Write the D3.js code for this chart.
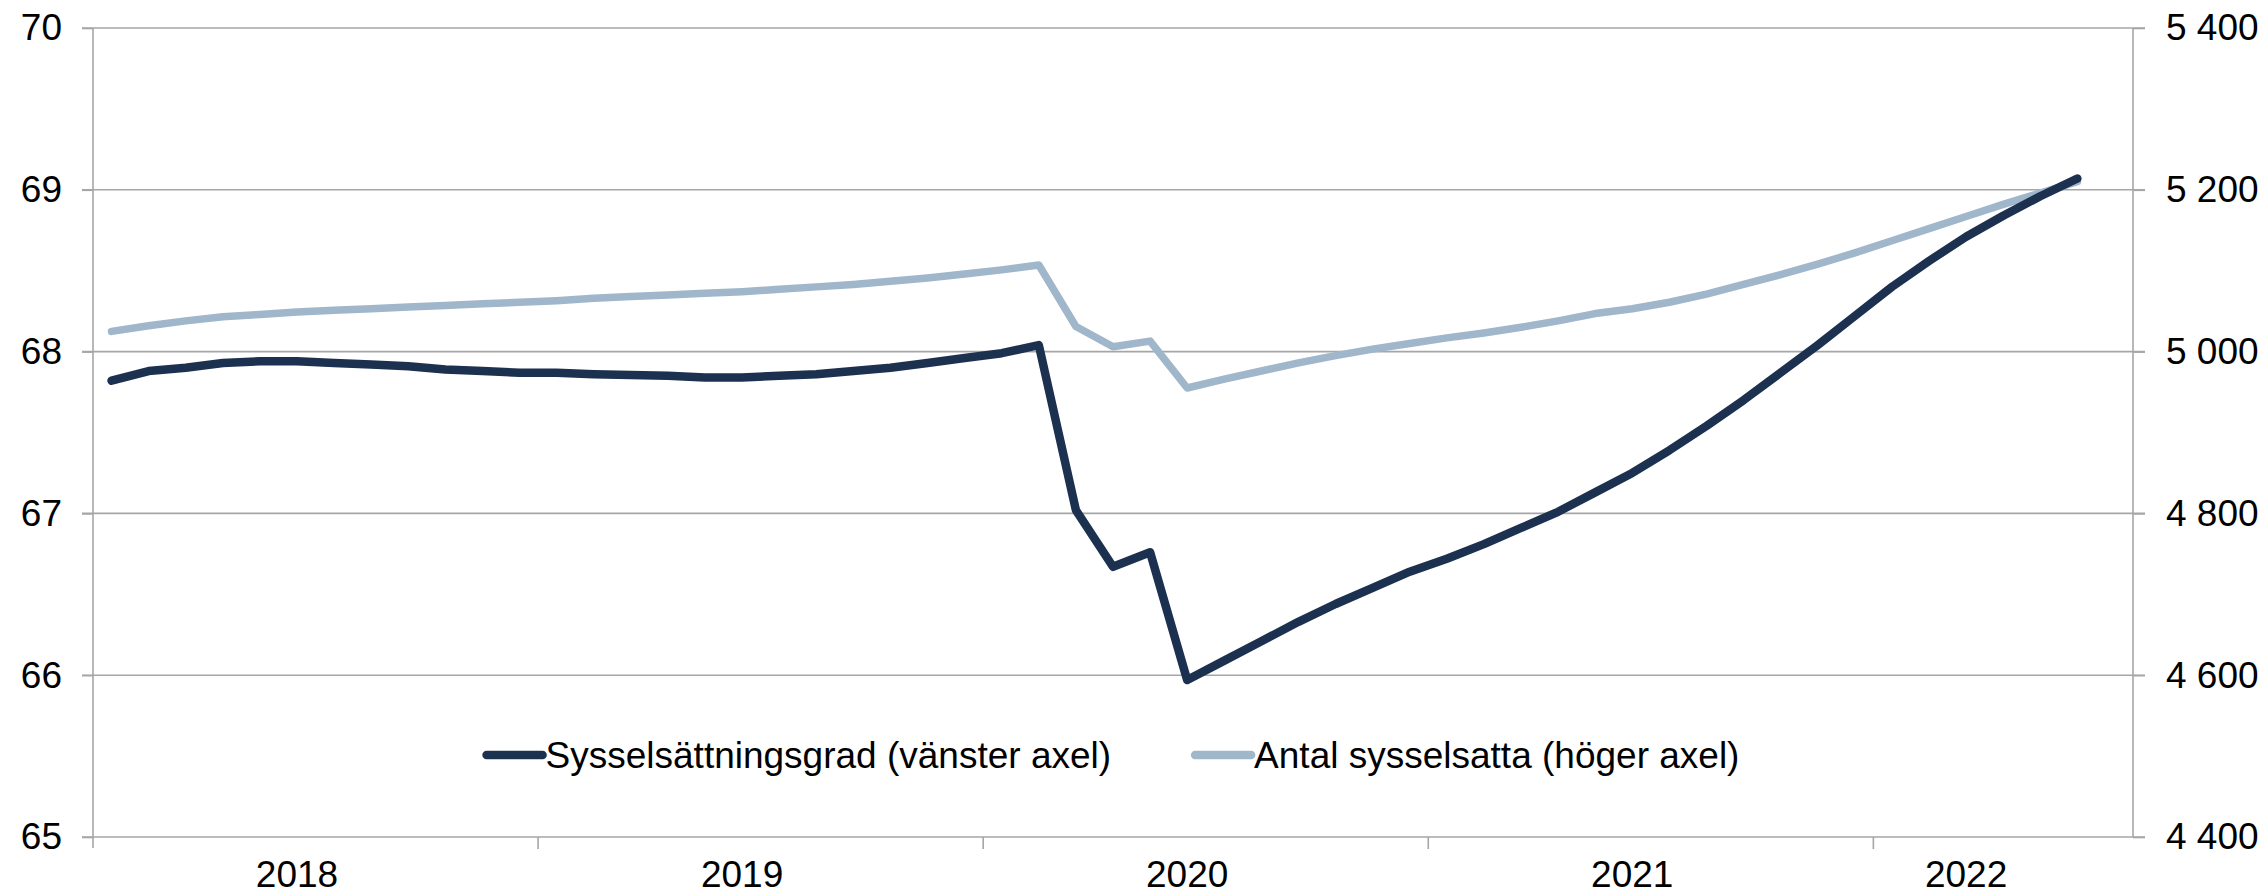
<!DOCTYPE html>
<html>
<head>
    <meta charset="utf-8">
    <title>Sysselsättningsgrad och antal sysselsatta</title>
    <script src="https://d3js.org/d3.v7.min.js"></script>
    <style>
        html, body { margin: 0; padding: 0; background: #fff; }
        svg text { font-family: "Liberation Sans", Arial, sans-serif; fill: #000; }
    </style>
</head>
<body>
    <div id="chart"></div>

    <script>
        // Years on the axis and how many months each one has on the axis
        const years = [2018, 2019, 2020, 2021, 2022];
        const monthsOnAxis = [12, 12, 12, 12, 7];
        // The month each year label sits on
        const yearLabelMonth = ["2018-06", "2019-06", "2020-06", "2021-06", "2022-03"];

        // Sysselsättningsgrad, procent (vänster axel), jan 2018 - jun 2022
        const rate = [
            67.82, 67.88, 67.90, 67.93, 67.94, 67.94, 67.93, 67.92, 67.91, 67.89, 67.88, 67.87,
            67.87, 67.86, 67.855, 67.85, 67.84, 67.84, 67.85, 67.86, 67.88, 67.90, 67.93, 67.96,
            67.99, 68.04, 67.02, 66.67, 66.76, 65.97, 66.09, 66.21, 66.33, 66.44, 66.54, 66.64,
            66.72, 66.81, 66.91, 67.01, 67.13, 67.25, 67.39, 67.54, 67.70, 67.87, 68.04, 68.22,
            68.40, 68.56, 68.71, 68.84, 68.96, 69.07
        ];

        // Antal sysselsatta, tusental (höger axel)
        const employed = [
            5025, 5032, 5038, 5043, 5046, 5049, 5051, 5053, 5055, 5057, 5059, 5061,
            5063, 5066, 5068, 5070, 5072, 5074, 5077, 5080, 5083, 5087, 5091, 5096,
            5101, 5107, 5031, 5006, 5013, 4955, 4966, 4976, 4986, 4995, 5003, 5010,
            5017, 5023, 5030, 5038, 5047, 5053, 5061, 5071, 5083, 5095, 5108, 5122,
            5137, 5152, 5167, 5182, 5196, 5210
        ];

        const leftTicks = [65, 66, 67, 68, 69, 70];
        const rightTicks = [4400, 4600, 4800, 5000, 5200, 5400];
        const seriesNames = ["Sysselsättningsgrad (vänster axel)", "Antal sysselsatta (höger axel)"];
        const colors = ["#1c3050", "#a0b6ca"];

        // month keys like "2018-01"
        const months = [];
        years.forEach((yr, k) => {
            for (let m = 1; m <= monthsOnAxis[k]; m++) months.push(yr + "-" + String(m).padStart(2, "0"));
        });

        const W = 2262, H = 896;
        const plotLeft = 93, plotRight = 2133, plotTop = 28, plotBottom = 837;
        const fontSize = 37;

        const svg = d3.select("#chart")
            .append("svg")
            .attr("width", W)
            .attr("height", H);

        const x = d3.scaleBand()
            .domain(months)
            .range([plotLeft, plotRight])
            .padding(0);

        const yL = d3.scaleLinear().domain([65, 70]).range([plotBottom, plotTop]);
        const yR = d3.scaleLinear().domain([4400, 5400]).range([plotBottom, plotTop]);

        const sv = d3.formatLocale({ decimal: ",", thousands: "\u00a0", grouping: [3], currency: ["", " kr"] });
        const fmtR = sv.format(",");

        const gridColor = "#a6a6a6";

        // Gridlines (reach out over the tick marks on both sides)
        svg.append("g")
            .selectAll("line")
            .data(leftTicks)
            .join("line")
            .attr("x1", plotLeft - 11)
            .attr("x2", plotRight + 12)
            .attr("y1", d => yL(d))
            .attr("y2", d => yL(d))
            .attr("stroke", gridColor)
            .attr("stroke-width", 1.6);

        // Left axis
        const gl = svg.append("g")
            .attr("transform", `translate(${plotLeft},0)`)
            .call(d3.axisLeft(yL).tickValues(leftTicks).tickSize(11).tickPadding(20).tickFormat(d3.format("d")));
        gl.select(".domain").remove();
        gl.append("line")
            .attr("y1", plotTop).attr("y2", plotBottom + 11)
            .attr("stroke", gridColor).attr("stroke-width", 1.6);

        // Right axis
        const gr = svg.append("g")
            .attr("transform", `translate(${plotRight},0)`)
            .call(d3.axisRight(yR).tickValues(rightTicks).tickSize(12).tickPadding(21).tickFormat(fmtR));
        gr.select(".domain").remove();
        gr.append("line")
            .attr("y1", plotTop).attr("y2", plotBottom)
            .attr("stroke", gridColor).attr("stroke-width", 1.6);

        [gl, gr].forEach(g => {
            g.selectAll(".tick line").attr("stroke", gridColor).attr("stroke-width", 1.6);
            g.selectAll(".tick text")
                .attr("font-size", fontSize)
                .attr("font-family", "Liberation Sans, Arial, sans-serif")
                .attr("fill", "#000");
        });

        // Bottom axis: tick marks between years, year labels on their month
        const yearStarts = months.filter(m => m.endsWith("-01") && m !== months[0]);
        svg.append("g")
            .selectAll("line")
            .data(yearStarts)
            .join("line")
            .attr("x1", d => x(d))
            .attr("x2", d => x(d))
            .attr("y1", plotBottom)
            .attr("y2", plotBottom + 12)
            .attr("stroke", gridColor)
            .attr("stroke-width", 1.6);

        svg.append("g")
            .selectAll("text")
            .data(years)
            .join("text")
            .attr("x", (d, i) => x(yearLabelMonth[i]) + x.bandwidth() / 2)
            .attr("y", 887)
            .attr("text-anchor", "middle")
            .attr("font-size", fontSize)
            .text(d => d);

        // Lines
        const cx = i => x(months[i]) + x.bandwidth() / 2;

        const lineR = d3.line().x((d, i) => cx(i)).y(d => yL(d));
        const lineE = d3.line().x((d, i) => cx(i)).y(d => yR(d));

        svg.append("path")
            .datum(employed)
            .attr("fill", "none")
            .attr("stroke", colors[1])
            .attr("stroke-width", 7.5)
            .attr("stroke-linejoin", "round")
            .attr("stroke-linecap", "round")
            .attr("d", lineE);

        svg.append("path")
            .datum(rate)
            .attr("fill", "none")
            .attr("stroke", colors[0])
            .attr("stroke-width", 8.5)
            .attr("stroke-linejoin", "round")
            .attr("stroke-linecap", "round")
            .attr("d", lineR);

        // Legend, centred under the plot
        const legY = 755, swatch = 56, swatchGap = 3, itemGap = 84;
        const legend = svg.append("g");
        const items = legend.selectAll("g")
            .data(seriesNames)
            .join("g");
        items.append("line")
            .attr("x1", 0).attr("x2", swatch)
            .attr("y1", 0).attr("y2", 0)
            .attr("stroke", (d, i) => colors[i])
            .attr("stroke-width", 8.5)
            .attr("stroke-linecap", "round");
        items.append("text")
            .attr("x", swatch + swatchGap)
            .attr("y", 0)
            .attr("dy", "0.35em")
            .attr("font-size", fontSize)
            .text(d => d);

        let offset = 0;
        const widths = [];
        items.each(function () {
            const w = swatch + swatchGap + d3.select(this).select("text").node().getComputedTextLength();
            widths.push(w);
        });
        const total = d3.sum(widths) + itemGap * (widths.length - 1);
        const start = (plotLeft + plotRight) / 2 - total / 2;
        items.attr("transform", (d, i) => {
            const t = `translate(${start + offset},${legY})`;
            offset += widths[i] + itemGap;
            return t;
        });
    </script>
</body>
</html>
